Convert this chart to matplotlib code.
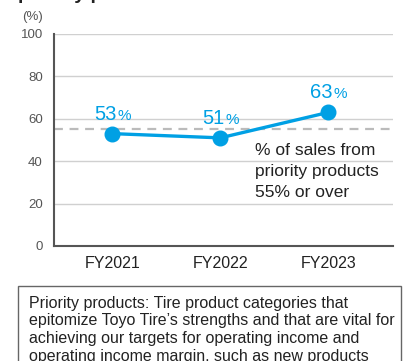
import matplotlib.pyplot as plt
from matplotlib.patches import Rectangle

plt.rcParams['font.family'] = ['Liberation Sans', 'DejaVu Sans']

# data
years = ['FY2021', 'FY2022', 'FY2023']
ratio = [53, 51, 63]
target = 55
yticks = [0, 20, 40, 60, 80, 100]
note_lines = [
    "Priority products: Tire product categories that",
    "epitomize Toyo Tire\u2019s strengths and that are vital for",
    "achieving our targets for operating income and",
    "operating income margin, such as new products",
]

blue = '#00a0e4'
grey = '#555555'

fig = plt.figure(figsize=(4.07, 3.61), dpi=100)
ax = fig.add_axes([0.1327, 0.3186, 0.8329, 0.5873])

x = list(range(len(years)))
for t in yticks[1:]:
    ax.axhline(t, color='#d0d0d0', lw=1, zorder=0)
ax.axhline(target, color='#bbbbbb', lw=1.6, ls=(0, (4, 3)), zorder=1)
ax.plot(x, ratio, color=blue, lw=2.4, marker='o', ms=10.5, zorder=3)

for xi, v in zip(x, ratio):
    ax.annotate(str(v), (xi, v), xytext=(4, 14), textcoords='offset pixels',
                ha='right', va='baseline', color=blue, fontsize=14.5)
    ax.annotate('%', (xi, v), xytext=(5, 14), textcoords='offset pixels',
                ha='left', va='baseline', color=blue, fontsize=11)

ax.text(1.32, 34.9, "% of sales from\npriority products\n55% or over",
        ha='left', va='center', fontsize=12.5, linespacing=1.5, color='#222222')

ax.set_xlim(-0.54, 2.6)
ax.set_ylim(0, 100)
ax.set_xticks(x)
ax.set_xticklabels(years, fontsize=11.5, color='#222222')
ax.set_yticks(yticks)
ax.tick_params(axis='y', length=0, labelsize=9.5, labelcolor=grey, pad=8)
ax.tick_params(axis='x', length=0, pad=7)
for s in ['top', 'right']:
    ax.spines[s].set_visible(False)
for s in ['left', 'bottom']:
    ax.spines[s].set_color('#555555')
    ax.spines[s].set_linewidth(1.5)

fig.text(0.081, 0.953, '(%)', ha='center', va='center', fontsize=9.5, color=grey)
fig.text(0.044, 1.003, 'priority products', ha='left', va='baseline',
         fontsize=14, fontweight='bold', color='#222222')

# note box
fig.patches.append(Rectangle((0.0442, -0.2), 0.94, 0.4078, transform=fig.transFigure,
                             fill=False, edgecolor='#666666', lw=1))
for i, line in enumerate(note_lines):
    fig.text(0.0713, (361 - 308 - 17.5 * i) / 361, line, ha='left', va='baseline',
             fontsize=11.5, color='#222222')

fig.savefig('out.png', dpi=100)
